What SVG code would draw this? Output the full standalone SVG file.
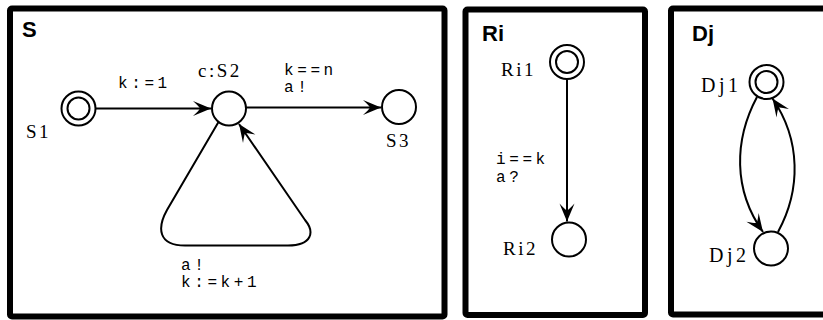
<svg xmlns="http://www.w3.org/2000/svg" width="823" height="320" viewBox="0 0 823 320">
<style>
.frame{fill:none;stroke:#000;stroke-width:6}
.st{fill:#fff;stroke:#000;stroke-width:2}
.edge{fill:none;stroke:#000;stroke-width:2}
.title{font-family:"Liberation Sans",Arial,sans-serif;font-weight:bold;font-size:22px;fill:#000}
.name{font-family:"Liberation Serif","Times New Roman",serif;font-size:19px;letter-spacing:2.5px;fill:#000}
.lbl{font-family:"Liberation Mono","Courier New",monospace;font-size:16px;letter-spacing:3.6px;fill:#000}
</style>
<defs>
<marker id="arr" markerUnits="userSpaceOnUse" viewBox="-19 -9 20 18" markerWidth="20" markerHeight="18" refX="0" refY="0" orient="auto">
<path d="M0,0 L-18,-7.5 Q-12,-2 -11,0 Q-12,2 -18,7.5 Z" fill="#000"/>
</marker>
</defs>
<rect width="823" height="320" fill="#fff"/>
<g id="panel-S">
<rect class="frame" x="10" y="8.5" width="434.5" height="308" rx="2"/>
<text class="title" x="22" y="37">S</text>
</g>
<g id="panel-Ri">
<rect class="frame" x="465.5" y="9.5" width="179.5" height="305.5" rx="2"/>
<text class="title" x="482" y="40.5">Ri</text>
</g>
<g id="panel-Dj">
<rect class="frame" x="671" y="8.5" width="170" height="306" rx="2"/>
<text class="title" x="692" y="41">Dj</text>
</g>
<g id="connectors">
<path class="edge" d="M95,108.5 L211,108.5" marker-end="url(#arr)"/>
<text class="lbl" x="118" y="88">k:=1</text>
<path class="edge" d="M246,107.5 L381,107.5" marker-end="url(#arr)"/>
<text class="lbl" x="284" y="74.5">k==n</text>
<text class="lbl" x="284" y="92">a!</text>
<path class="edge" d="M218.5,122 L167,210 C157,228 158,245.5 185,245.5 L288,245.5 C312,245.5 315,232 305,220 L239,124" marker-end="url(#arr)"/>
<text class="lbl" x="181" y="270">a!</text>
<text class="lbl" x="181" y="287">k:=k+1</text>
<path class="edge" d="M567,80 L567,221.5" marker-end="url(#arr)"/>
<text class="lbl" x="496" y="164">i==k</text>
<text class="lbl" x="496" y="181.5">a?</text>
<path class="edge" d="M757,97 C734,140 733,190 763,232" marker-end="url(#arr)"/>
<path class="edge" d="M778,232 C801,190 801,140 772.5,98.5" marker-end="url(#arr)"/>
</g>
<g id="S1">
<circle class="st" cx="78.5" cy="108.5" r="17"/>
<circle class="st" cx="78.5" cy="108.5" r="11"/>
<text class="name" x="26" y="137.5">S1</text>
</g>
<g id="S2">
<circle class="st" cx="229" cy="108.5" r="17"/>
<text class="name" x="198" y="77">c:S2</text>
</g>
<g id="S3">
<circle class="st" cx="399" cy="107" r="17"/>
<text class="name" x="386" y="146.5">S3</text>
</g>
<g id="Ri1">
<circle class="st" cx="567" cy="62" r="17"/>
<circle class="st" cx="567" cy="62" r="11"/>
<text class="name" x="501" y="76">Ri1</text>
</g>
<g id="Ri2">
<circle class="st" cx="569" cy="239.5" r="17"/>
<text class="name" x="503" y="255">Ri2</text>
</g>
<g id="Dj1">
<circle class="st" cx="766.5" cy="82" r="17"/>
<circle class="st" cx="766.5" cy="82" r="11"/>
<text class="name" x="701" y="91.5" style="font-size:20px;letter-spacing:3.5px">Dj1</text>
</g>
<g id="Dj2">
<circle class="st" cx="771" cy="248.5" r="17"/>
<text class="name" x="709" y="261.5" style="font-size:20px;letter-spacing:3.5px">Dj2</text>
</g>
</svg>
